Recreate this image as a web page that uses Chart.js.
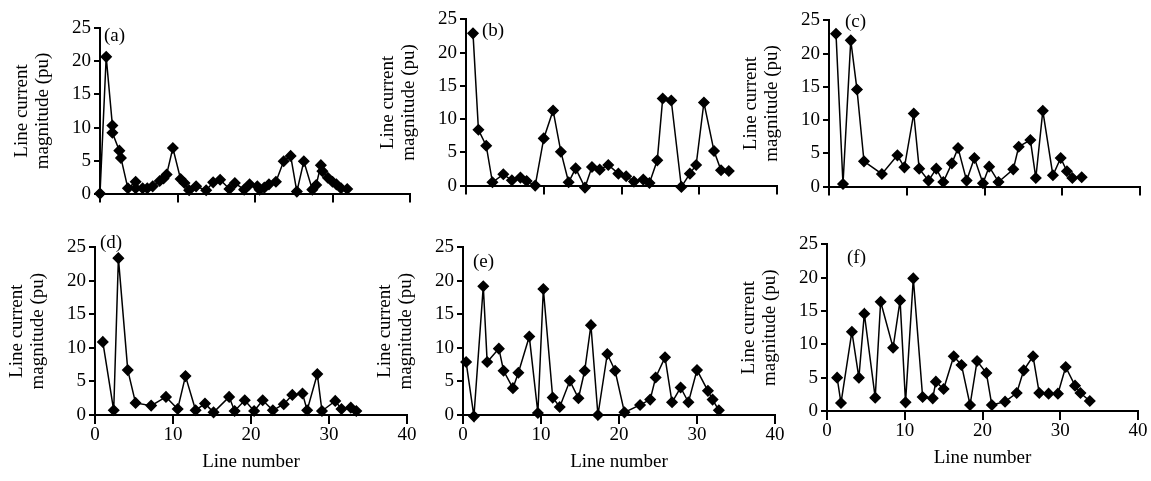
<!DOCTYPE html>
<html><head><meta charset="utf-8">
<script src="https://cdn.jsdelivr.net/npm/chart.js@4/dist/chart.umd.min.js"></script>
<style>body{margin:0;background:#fff;width:1151px;height:481px;position:relative;overflow:hidden}
.c{position:absolute}</style></head><body>
<div class="c" id="wa"><canvas id="ca"></canvas></div>
<div class="c" id="wb"><canvas id="cb"></canvas></div>
<div class="c" id="wc"><canvas id="cc"></canvas></div>
<div class="c" id="wd"><canvas id="cd"></canvas></div>
<div class="c" id="we"><canvas id="ce"></canvas></div>
<div class="c" id="wf"><canvas id="cf"></canvas></div>
<script>
const xA=[0,0.8,1.6,1.6,2.5,2.7,3.6,4.6,4.6,5.5,6.1,6.8,7.7,8.2,8.6,9.4,10.4,10.9,11.5,12.4,13.7,14.6,15.5,16.7,17.4,18.6,19.3,20.3,20.6,21.2,21.8,22.7,23.7,24.6,25.4,26.3,27.4,27.9,28.5,28.7,29.4,30.0,30.5,31.1,31.9];
const yA=[0,20.7,10.3,9.2,6.5,5.4,0.8,1.8,0.8,0.8,0.8,1.1,1.9,2.3,2.9,6.9,2.2,1.6,0.5,1.1,0.5,1.7,2.1,0.7,1.6,0.6,1.4,1.1,0.6,0.9,1.4,1.8,4.9,5.7,0.3,4.9,0.6,1.3,4.3,3.4,2.4,1.8,1.4,0.8,0.7];
const xB=[0.9,1.6,2.6,3.4,4.8,5.9,7.0,7.8,8.9,10.0,11.2,12.2,13.2,14.1,15.3,16.2,17.2,18.3,19.6,20.6,21.6,22.8,23.6,24.6,25.3,26.4,27.7,28.8,29.6,30.6,31.9,32.8,33.8];
const yB=[22.9,8.4,6.0,0.5,1.7,0.8,1.2,0.7,0,7.1,11.3,5.1,0.5,2.6,-0.3,2.8,2.4,3.1,1.8,1.4,0.6,0.9,0.4,3.8,13.1,12.8,-0.2,1.8,3.1,12.5,5.2,2.3,2.2];
const xC=[0.9,1.8,2.8,3.6,4.5,6.8,8.8,9.7,10.9,11.6,12.8,13.8,14.7,15.8,16.6,17.7,18.7,19.8,20.6,21.8,23.7,24.4,25.9,26.6,27.5,28.8,29.8,30.6,31.3,32.5];
const yC=[23.0,0.4,22.0,14.6,3.8,1.9,4.7,2.9,11.0,2.7,0.9,2.7,0.7,3.5,5.8,0.9,4.3,0.5,3.0,0.7,2.6,6.0,7.0,1.3,11.4,1.7,4.3,2.3,1.3,1.4];
const xD=[1.0,2.4,3.0,4.2,5.2,7.2,9.1,10.6,11.6,12.9,14.1,15.2,17.2,17.9,19.2,20.4,21.5,22.8,24.2,25.3,26.6,27.2,28.5,29.1,30.8,31.6,32.8,33.5];
const yD=[10.9,0.7,23.4,6.7,1.8,1.4,2.7,0.9,5.8,0.7,1.7,0.4,2.7,0.6,2.2,0.6,2.2,0.7,1.6,3.0,3.2,0.7,6.1,0.6,2.1,0.9,1.1,0.6];
const xE=[0.4,1.4,2.6,3.1,4.6,5.2,6.4,7.1,8.5,9.6,10.3,11.5,12.4,13.7,14.8,15.6,16.4,17.3,18.5,19.5,20.7,22.7,24.0,24.7,25.9,26.8,27.9,28.9,30.0,31.4,32.0,32.8];
const yE=[7.9,-0.2,19.2,7.9,9.9,6.6,4.0,6.3,11.7,0.3,18.8,2.6,1.2,5.1,2.5,6.6,13.4,0,9.1,6.6,0.4,1.5,2.3,5.6,8.6,1.9,4.1,1.9,6.7,3.6,2.3,0.7];
const xF=[1.3,1.8,3.2,4.1,4.8,6.2,6.9,8.5,9.4,10.1,11.1,12.3,13.6,14.0,15.0,16.3,17.3,18.4,19.3,20.5,21.2,22.9,24.4,25.3,26.5,27.3,28.5,29.7,30.7,31.9,32.6,33.8];
const yF=[5.0,1.2,11.9,5.0,14.6,2.0,16.4,9.5,16.6,1.3,19.9,2.1,1.9,4.4,3.3,8.2,6.9,0.9,7.5,5.7,0.9,1.4,2.7,6.1,8.2,2.7,2.6,2.6,6.6,3.8,2.7,1.5];
const xTicks=[0,10,20,30,40];
const yTicks=[0,5,10,15,20,25];

const FONT='"Liberation Serif","Times New Roman",serif';
const FS=19;
const YW=88;
function make(id,wrap,label,xs,ys,left,top,plotW,plotH,bottomRow,lx,ly){
  const xH=bottomRow?62:12;
  const W=YW+plotW+12, H=10+plotH+xH;
  const w=document.getElementById(wrap);
  w.style.left=(left-YW)+'px'; w.style.top=(top-10)+'px';
  w.style.width=W+'px'; w.style.height=H+'px';
  const labelPlugin={id:'lbl',afterDraw(ch){const c=ch.ctx;c.save();c.font=FS+'px '+FONT;c.fillStyle='#000';c.textBaseline='middle';c.fillText(label,ch.chartArea.left+lx,ch.chartArea.top+ly);c.restore();}};
  new Chart(document.getElementById(id),{
    type:'scatter',
    data:{datasets:[{data:xs.map((x,i)=>({x:x,y:ys[i]})),showLine:true,borderColor:'#000',borderWidth:1.5,
      pointStyle:'rectRot',pointRadius:5,pointBackgroundColor:'#000',pointBorderColor:'#000',clip:false}]},
    options:{responsive:true,maintainAspectRatio:false,animation:false,
      layout:{padding:{top:10,left:0,right:12,bottom:0}},
      plugins:{legend:{display:false},tooltip:{enabled:false}},
      scales:{
        x:{type:'linear',min:0,max:40,afterBuildTicks(s){s.ticks=xTicks.map(v=>({value:v}));},
          afterFit(s){s.height=xH;},
          border:{color:'#000',width:2},
          grid:{drawOnChartArea:false,color:'#000',lineWidth:2,tickLength:9},
          ticks:{display:bottomRow,color:'#000',font:{family:FONT,size:FS},padding:0,maxRotation:0},
          title:{display:bottomRow,text:'Line number',color:'#000',font:{family:FONT,size:FS},padding:{top:12}}},
        y:{type:'linear',min:0,max:25,afterBuildTicks(s){s.ticks=yTicks.map(v=>({value:v}));},
          afterFit(s){s.width=YW;},
          border:{color:'#000',width:2},
          grid:{drawOnChartArea:false,color:'#000',lineWidth:2,tickLength:6},
          ticks:{color:'#000',font:{family:FONT,size:FS},padding:3},
          title:{display:true,text:['Line current','magnitude (pu)'],color:'#000',font:{family:FONT,size:FS,lineHeight:1.1},padding:{top:0,bottom:2}}}
      }},
    plugins:[labelPlugin]
  });
}
make('ca','wa','(a)',xA,yA,100,24,310,172,false,4,8);
make('cb','wb','(b)',xB,yB,466,15,311,173,false,16,12);
make('cc','wc','(c)',xC,yC,829,16,311,173,false,16,2);
make('cd','wd','(d)',xD,yD,95,243,312,172,true,5,-4);
make('ce','we','(e)',xE,yE,463,243,312,172,true,10,15);
make('cf','wf','(f)',xF,yF,827,240,311,171,true,20,14);
</script></body></html>
